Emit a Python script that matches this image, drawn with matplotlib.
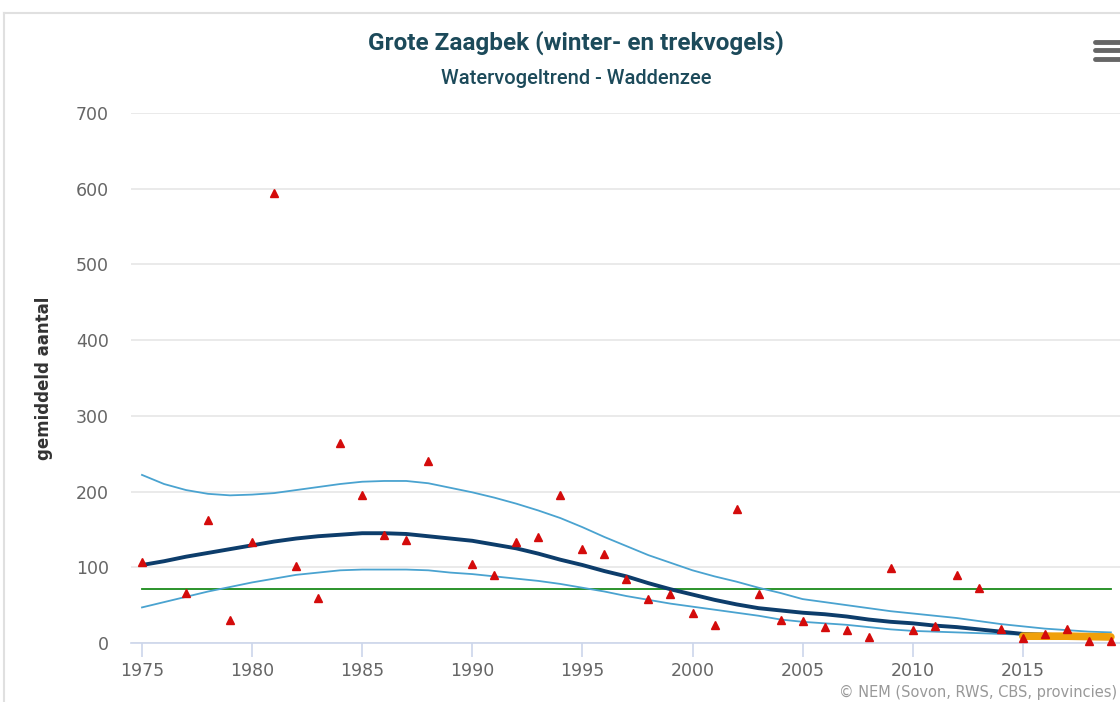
import matplotlib.pyplot as plt
import numpy as np

# jaarlijkse tellingen (gemiddeld aantal)
jaren_telling = [1975, 1977, 1978, 1979, 1980, 1981, 1982, 1983, 1984, 1985, 1986, 1987, 1988,
                 1990, 1991, 1992, 1993, 1994, 1995, 1996, 1997, 1998, 1999, 2000, 2001, 2002,
                 2003, 2004, 2005, 2006, 2007, 2008, 2009, 2010, 2011, 2012, 2013, 2014, 2015,
                 2016, 2017, 2018, 2019]
telling = [107, 66, 163, 30, 133, 594, 102, 60, 264, 195, 143, 136, 241,
           104, 90, 133, 140, 195, 124, 118, 85, 58, 65, 40, 24, 177,
           65, 30, 29, 21, 17, 8, 99, 17, 22, 90, 72, 19, 6,
           12, 19, 2, 2]

# trend met betrouwbaarheidsband
jaren = list(range(1975, 2020))
trend = [103, 108, 114, 119, 124, 129, 134, 138, 141, 143, 145, 145, 144, 141, 138,
         135, 130, 125, 118, 110, 103, 95, 88, 79, 71, 64, 57, 51, 46, 43,
         40, 38, 35, 31, 28, 26, 23, 21, 18, 15, 12, 11, 10, 9, 9]
boven = [222, 210, 202, 197, 195, 196, 198, 202, 206, 210, 213, 214, 214, 211, 205,
         199, 192, 184, 175, 165, 153, 140, 128, 116, 106, 96, 88, 81, 73, 66,
         58, 54, 50, 46, 42, 39, 36, 33, 29, 25, 22, 19, 17, 15, 14]
onder = [47, 54, 61, 68, 74, 80, 85, 90, 93, 96, 97, 97, 97, 96, 93,
         91, 88, 85, 82, 78, 73, 68, 62, 57, 52, 48, 44, 40, 36, 31,
         28, 26, 24, 21, 18, 16, 15, 14, 13, 12, 11, 10, 9, 8, 7.5]

# laatste vijf jaar en referentieniveau
jaren_recent = [2015, 2016, 2017, 2018, 2019]
recent = [9, 9, 9, 8.5, 8]
referentie = 71

fig = plt.figure(figsize=(11.2, 7.02), dpi=100)
ax = fig.add_axes([131 / 1120, 1 - 643 / 702, 1 - 131 / 1120, 530 / 702])

ax.plot([1975, 2019], [referentie, referentie], color='#1a8a1a', lw=1.3, zorder=2)
ax.plot(jaren, boven, color='#4aa3d0', lw=1.3, zorder=3)
ax.plot(jaren, onder, color='#4aa3d0', lw=1.3, zorder=3)
ax.plot(jaren, trend, color='#0d3d6b', lw=2.8, zorder=4, solid_capstyle='round')
ax.plot(jaren_recent, recent, color='#f0a00a', lw=5.5, zorder=5, solid_capstyle='round')
ax.plot(jaren_telling, telling, ls='none', marker='^', ms=6, color='#d40b0b',
        zorder=6, clip_on=False)

ax.set_xlim(1975 - 11 / 22.02, 1975 + (1120 - 142) / 22.02)
ax.set_ylim(0, 700)
ax.set_xticks(range(1975, 2020, 5))
ax.set_yticks(range(0, 701, 100))
ax.grid(axis='y', color='#e6e6e6', lw=1.2)
ax.set_axisbelow(True)
for s in ['top', 'right', 'left']:
    ax.spines[s].set_visible(False)
ax.spines['bottom'].set_color('#ccd6eb')
ax.spines['bottom'].set_linewidth(1.2)
ax.tick_params(axis='x', colors='#ccd6eb', length=10, width=1.2, labelcolor='#666666',
               labelsize=12.5, pad=4)
ax.tick_params(axis='y', length=0, labelcolor='#666666', labelsize=12.5, pad=16)
ax.set_ylabel('gemiddeld aantal', fontsize=12, fontweight='bold', color='#333333', labelpad=16)

fig.text(576 / 1120, 1 - 43 / 702, 'Grote Zaagbek (winter- en trekvogels)', ha='center',
         va='center', fontsize=17.5, fontweight='bold', color='#1c4a5a', family='Roboto')
fig.text(576 / 1120, 1 - 79 / 702, 'Watervogeltrend - Waddenzee', ha='center', va='center',
         fontsize=14.5, color='#1c4a5a', family='Roboto', fontweight='medium')
fig.text(1117 / 1120, 1 - 692 / 702, '© NEM (Sovon, RWS, CBS, provincies)', ha='right',
         va='center', fontsize=10.5, color='#999999')

# kader en menuknop
fig.add_artist(plt.Line2D([4 / 1120, 1], [1 - 13 / 702, 1 - 13 / 702], color='#e0e0e0', lw=1.5))
fig.add_artist(plt.Line2D([4 / 1120, 4 / 1120], [0, 1 - 13 / 702], color='#e0e0e0', lw=1.5))
for yy in [42, 50, 59]:
    fig.add_artist(plt.Line2D([1095 / 1120, 1120 / 1120], [1 - yy / 702, 1 - yy / 702],
                              color='#666666', lw=3.5, solid_capstyle='round'))

fig.savefig('out.png', dpi=100)
